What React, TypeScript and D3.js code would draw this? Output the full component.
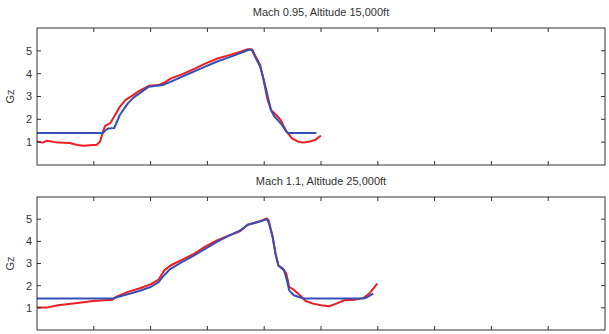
import React from "react";
import * as d3 from "d3";

// ---- data ----
const topTitle = "Mach 0.95, Altitude 15,000ft";
const bottomTitle = "Mach 1.1, Altitude 25,000ft";
const yTicks = [1, 2, 3, 4, 5];
const xTicks = [1, 2, 3, 4, 5, 6, 7, 8, 9];

const topRedX = [0, 0.1, 0.17, 0.37, 0.58, 0.71, 0.82, 0.99, 1.05, 1.11, 1.16, 1.2, 1.29, 1.36, 1.46, 1.56, 1.7, 1.8, 1.97, 2.14, 2.24, 2.35, 2.55, 2.76, 2.96, 3.16, 3.37, 3.57, 3.71, 3.79, 3.84, 3.93, 3.99, 4.06, 4.12, 4.18, 4.29, 4.39, 4.49, 4.59, 4.69, 4.8, 4.9, 4.97, 5.0];
const topRedY = [1.03, 0.98, 1.06, 0.98, 0.96, 0.88, 0.84, 0.88, 0.88, 1.03, 1.46, 1.71, 1.83, 2.12, 2.56, 2.85, 3.07, 3.25, 3.47, 3.5, 3.6, 3.78, 3.97, 4.2, 4.44, 4.65, 4.8, 4.95, 5.07, 5.06, 4.8, 4.37, 3.7, 2.85, 2.41, 2.27, 1.97, 1.47, 1.17, 1.03, 0.98, 1.03, 1.1, 1.24, 1.27];
const topBlueX = [0, 1.16, 1.22, 1.26, 1.36, 1.46, 1.6, 1.7, 1.84, 1.97, 2.21, 2.35, 2.62, 2.89, 3.16, 3.44, 3.64, 3.74, 3.78, 3.84, 3.93, 3.98, 4.05, 4.12, 4.18, 4.29, 4.39, 4.42, 4.92];
const topBlueY = [1.4, 1.4, 1.55, 1.6, 1.62, 2.2, 2.7, 2.95, 3.2, 3.43, 3.5, 3.64, 3.94, 4.23, 4.52, 4.77, 4.96, 5.06, 5.05, 4.74, 4.3, 3.86, 3.14, 2.4, 2.12, 1.83, 1.47, 1.4, 1.4];

const botRedX = [0, 0.17, 0.37, 0.71, 0.99, 1.33, 1.39, 1.6, 1.8, 2.0, 2.14, 2.24, 2.35, 2.55, 2.76, 2.96, 3.16, 3.37, 3.57, 3.71, 3.91, 4.05, 4.08, 4.15, 4.2, 4.25, 4.32, 4.39, 4.44, 4.52, 4.63, 4.73, 4.86, 5.0, 5.14, 5.27, 5.41, 5.61, 5.75, 5.85, 5.92, 5.99];
const botRedY = [1.01, 1.01, 1.12, 1.22, 1.31, 1.37, 1.49, 1.72, 1.87, 2.06, 2.27, 2.69, 2.91, 3.16, 3.43, 3.76, 4.03, 4.25, 4.45, 4.75, 4.9, 5.03, 4.93, 4.18, 3.43, 2.91, 2.79, 2.54, 1.94, 1.82, 1.57, 1.31, 1.19, 1.12, 1.07, 1.19, 1.34, 1.37, 1.45, 1.64, 1.87, 2.09];
const botBlueX = [0, 1.33, 1.53, 1.8, 2.0, 2.14, 2.21, 2.35, 2.55, 2.76, 2.96, 3.16, 3.37, 3.57, 3.71, 3.91, 4.05, 4.08, 4.15, 4.2, 4.25, 4.35, 4.4, 4.44, 4.52, 4.69, 5.75, 5.82, 5.92];
const botBlueY = [1.42, 1.42, 1.57, 1.76, 1.94, 2.16, 2.39, 2.76, 3.06, 3.36, 3.66, 3.96, 4.25, 4.48, 4.75, 4.88, 5.0, 4.85, 4.18, 3.43, 2.91, 2.69, 2.24, 1.79, 1.57, 1.42, 1.42, 1.49, 1.64];

const RED = "#ee1d23";
const BLUE = "#3550b4";
const AXIS = "#333";
const FONT = "'Liberation Sans', Arial, sans-serif";

const LEFT = 37;
const RIGHT = 605;

function Panel({ title, top, bottom, rx, ry, bx, by }: any) {
  const x = d3.scaleLinear().domain([0, 10]).range([LEFT, RIGHT]);
  const y = d3.scaleLinear().domain([0, 6]).range([bottom, top]);
  const line = d3
    .line<[number, number]>()
    .x((d) => x(d[0]))
    .y((d) => y(d[1]));
  const red = rx.map((v: number, i: number) => [v, ry[i]] as [number, number]);
  const blue = bx.map((v: number, i: number) => [v, by[i]] as [number, number]);
  const tl = 4;
  return (
    <g>
      <text x={(LEFT + RIGHT) / 2} y={top - 12} textAnchor="middle" fontSize={11} fill={AXIS} fontFamily={FONT}>
        {title}
      </text>
      <path d={line(red) || ""} fill="none" stroke={RED} strokeWidth={2} strokeLinejoin="round" />
      <path d={line(blue) || ""} fill="none" stroke={BLUE} strokeWidth={2} strokeLinejoin="round" />
      <rect x={LEFT} y={top} width={RIGHT - LEFT} height={bottom - top} fill="none" stroke={AXIS} strokeWidth={1} />
      {xTicks.map((t) => (
        <g key={"x" + t}>
          <line x1={x(t)} x2={x(t)} y1={top} y2={top + tl} stroke={AXIS} />
          <line x1={x(t)} x2={x(t)} y1={bottom} y2={bottom - tl} stroke={AXIS} />
        </g>
      ))}
      {yTicks.map((t) => (
        <g key={"y" + t}>
          <line x1={LEFT} x2={LEFT + tl} y1={y(t)} y2={y(t)} stroke={AXIS} />
          <line x1={RIGHT} x2={RIGHT - tl} y1={y(t)} y2={y(t)} stroke={AXIS} />
          <text x={LEFT - 5} y={y(t)} dy="0.35em" textAnchor="end" fontSize={11} fill={AXIS} fontFamily={FONT}>
            {t}
          </text>
        </g>
      ))}
      <text
        transform={`translate(14,${(top + bottom) / 2}) rotate(-90)`}
        textAnchor="middle"
        fontSize={11}
        fill={AXIS}
        fontFamily={FONT}
      >
        Gz
      </text>
    </g>
  );
}

export default function App() {
  return (
    <svg width={609} height={334} style={{ position: "absolute", left: 0, top: 0, background: "#fff" }}>
      <rect width={609} height={334} fill="#fff" />
      <Panel title={topTitle} top={28} bottom={165} rx={topRedX} ry={topRedY} bx={topBlueX} by={topBlueY} />
      <Panel title={bottomTitle} top={197} bottom={330} rx={botRedX} ry={botRedY} bx={botBlueX} by={botBlueY} />
    </svg>
  );
}
